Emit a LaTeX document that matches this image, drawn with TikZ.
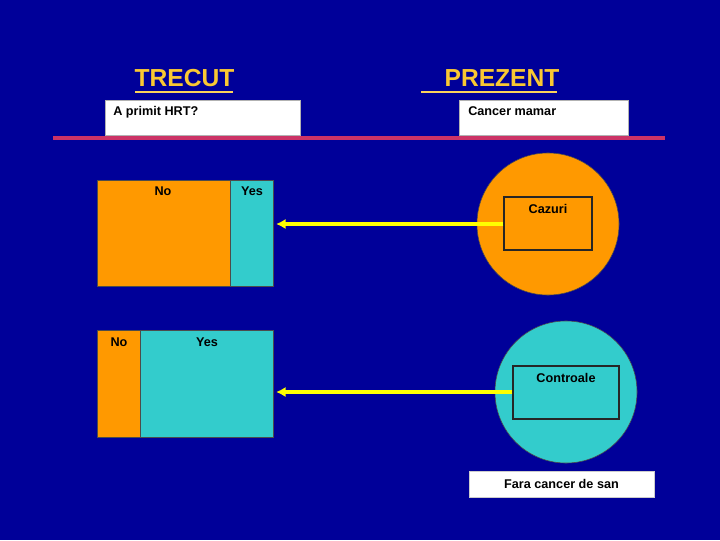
\documentclass[tikz,border=0pt]{standalone}
\usepackage{fontspec}
\setmainfont{Liberation Sans}
\usetikzlibrary{arrows.meta}
\definecolor{bgblue}{RGB}{0,0,153}
\definecolor{orng}{RGB}{255,153,0}
\definecolor{cyn}{RGB}{51,204,204}
\definecolor{gold}{RGB}{250,200,50}
\definecolor{yel}{RGB}{255,255,0}
\definecolor{redline}{RGB}{204,51,102}

\begin{document}
\begin{tikzpicture}[x=0.025cm, y=-0.025cm,
  head/.style={gold, font=\fontsize{17.5}{20}\selectfont\bfseries, inner sep=0pt},
  uline/.style={gold!80!white, line width=1.4pt},
  wbox/.style={fill=white, draw=gray!60, inner sep=0pt, minimum height=0.875cm},
  txt/.style={font=\fontsize{9}{11}\selectfont\bfseries, text=black, inner sep=0pt},
  part/.style={draw=black!70, line width=0.4pt, inner sep=0pt, minimum height=2.65cm},
  disc/.style={circle, draw=black!70, line width=0.4pt, minimum size=3.55cm, inner sep=0pt},
  inbox/.style={draw=black!85, line width=0.8pt, inner sep=0pt, minimum height=1.325cm},
  arr/.style={yel, line width=2.8pt, -{Latex[length=2.4mm,width=2.6mm]}, shorten >=2pt}]
  \fill[bgblue] (0,0) rectangle (720,540);
  % headings
  \node[head] (trecut) at (184.5,78) {TRECUT};
  \node[head] (prezent) at (502,78) {PREZENT};
  \draw[uline] (135,92) -- (233,92);
  \draw[uline] (421,92) -- (557,92);
  \node[wbox, minimum width=4.875cm] (hrt) at (202.5,117.5) {};
  \node[txt, anchor=north west] (hrtlbl) at (113,106) {A primit HRT?};
  \node[wbox, minimum width=4.225cm] (mamar) at (543.5,117.5) {};
  \node[txt, anchor=north west] (mamarlbl) at (468,106) {Cancer mamar};
  \draw[redline, line width=2.2pt] (53,138) -- (665,138);
  % past, upper bar
  \node[part, fill=orng, minimum width=3.325cm] (no1) at (163.5,233) {};
  \node[part, fill=cyn, minimum width=1.075cm] (yes1) at (251.5,233) {};
  \node[txt] (nolbl1) at (163,191) {No};
  \node[txt] (yeslbl1) at (252,191) {Yes};
  % past, lower bar
  \node[part, fill=orng, minimum width=1.075cm, minimum height=2.675cm] (no2) at (118.5,383.5) {};
  \node[part, fill=cyn, minimum width=3.325cm, minimum height=2.675cm] (yes2) at (206.5,383.5) {};
  \node[txt] (nolbl2) at (119,342) {No};
  \node[txt] (yeslbl2) at (207,342) {Yes};
  % present
  \node[disc, fill=orng] (cases) at (548,224) {};
  \node[inbox, minimum width=2.2cm] (cazuri) at (548,223.5) {};
  \node[txt] (cazurilbl) at (548,209) {Cazuri};
  \node[disc, fill=cyn] (ctrl) at (566,392) {};
  \node[inbox, minimum width=2.65cm] (controale) at (566,392.5) {};
  \node[txt] (controalelbl) at (566,378) {Controale};
  \node[wbox, minimum width=4.625cm, minimum height=0.65cm, draw=gray!40] (fara) at (561.5,484) {};
  \node[txt] (faralbl) at (fara) {Fara cancer de san};
  % arrows
  \draw[arr] (cazuri.west |- cases.center) -- (cases.center -| yes1.east);
  \draw[arr] (controale.west |- ctrl.center) -- (ctrl.center -| yes2.east);
\end{tikzpicture}
\end{document}
